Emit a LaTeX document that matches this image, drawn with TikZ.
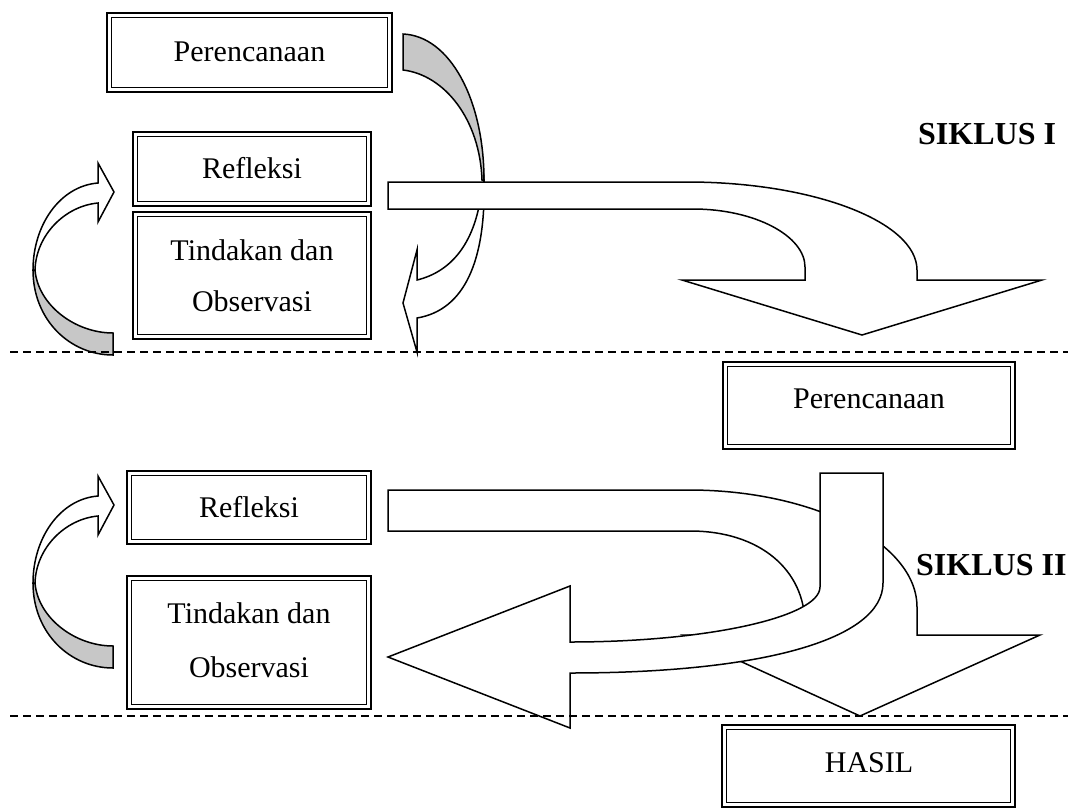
\documentclass[tikz,border=0pt]{standalone}
\usepackage{fontspec}
\setmainfont{Liberation Serif}
\begin{document}
\begin{tikzpicture}[x=1pt,y=-1pt,
  box/.style={draw=black, line width=2.6pt, fill=white, inner sep=0pt,
    path picture={\draw[line width=1.5pt] ([shift={(4.5pt,4.5pt)}]path picture bounding box.south west) rectangle ([shift={(-4.5pt,-4.5pt)}]path picture bounding box.north east);}},
  txt/.style={font=\fontsize{30}{36}\selectfont, inner sep=0pt, anchor=base},
  btxt/.style={font=\fontsize{32}{38}\selectfont\bfseries, inner sep=0pt, anchor=base west},
  arr/.style={draw=black, fill=white, line width=1.5pt, line join=miter},
  garr/.style={arr, fill=black!22},
  dline/.style={draw=black, line width=1.4pt, dash pattern=on 8pt off 5pt}]
\useasboundingbox (0,0) rectangle (1072,807);
\fill[white] (0,0) rectangle (1072,807);

% boxes
\node[box, minimum width=285pt, minimum height=79pt] (plan1) at (249.5,52.5) {};
\node[box, minimum width=238pt, minimum height=74pt] (refl1) at (252,169) {};
\node[box, minimum width=238pt, minimum height=127pt] (act1) at (252,275.5) {};
\node[box, minimum width=292pt, minimum height=87pt] (plan2) at (869,405.5) {};
\node[box, minimum width=244pt, minimum height=73pt] (refl2) at (249,507.5) {};
\node[box, minimum width=244pt, minimum height=133pt] (act2) at (249,642.5) {};
\node[box, minimum width=293pt, minimum height=82pt] (hasil) at (868.5,766) {};

% left curved arrows (cycle I and II)
\foreach \dy in {0,313}{
\begin{scope}[shift={(0,\dy)}]
\path[garr] (33,270) .. controls (33,320) and (70,355) .. (113,355) -- (113,333) .. controls (75,333) and (38,305) .. (35,270) -- cycle;
\path[arr] (33,270) .. controls (33,225) and (60,186) .. (98,183) -- (98,163) -- (114,192) -- (98,222) -- (98,203) .. controls (65,206) and (36,235) .. (35,270) -- cycle;
\end{scope}}

% right curved arrow (cycle I)
\path[garr] (403,34) .. controls (450,36) and (484,100) .. (484,180) -- (482,180) .. controls (480,120) and (445,75) .. (403,70) -- cycle;
\path[arr] (484,180) .. controls (486,260) and (465,310) .. (417,318) -- (417,352) -- (403,303) -- (417,250) -- (417,280) .. controls (450,272) and (474,245) .. (481,195) -- cycle;

% big arrow cycle I
\path[arr] (388,182) -- (687,182) .. controls (814,182) and (917,222) .. (917,270) -- (917,280) -- (1042,280) -- (862,335) -- (682,280) -- (805,280) -- (805,267) .. controls (805,236) and (755,209) .. (693,209) -- (388,209) -- cycle;

% big arrow cycle II (down to HASIL)
\path[arr] (388,490) -- (689,490) .. controls (814,490) and (917,543) .. (917,607) -- (917,635) -- (1040,635) -- (860,716) -- (683,635) -- (805,635) -- (805,625) .. controls (805,570) and (760,531) .. (690,531) -- (388,531) -- cycle;

% arrow from Perencanaan II to Tindakan II
\path[arr] (820,473) -- (883,473) -- (883,583) .. controls (883,640) and (760,673) .. (570,673) -- (570,728) -- (388,657) -- (570,586) -- (570,642) .. controls (707,642) and (820,617) .. (820,587) -- cycle;

% dashed separators
\coordinate (d1a) at (10,352); \coordinate (d1b) at (1068,352);
\coordinate (d2a) at (10,716); \coordinate (d2b) at (1068,716);
\draw[dline] (d1a) -- (d1b);
\draw[dline] (d2a) -- (d2b);

% texts
\node[txt] (tplan1) at (249.5,61) {Perencanaan};
\node[txt] (trefl1) at (252,178) {Refleksi};
\node[txt] (tact1a) at (252,260) {Tindakan dan};
\node[txt] (tact1b) at (252,311) {Observasi};
\node[btxt] (sik1) at (918,144) {SIKLUS I};
\node[txt] (tplan2) at (869,408) {Perencanaan};
\node[txt] (trefl2) at (249,517) {Refleksi};
\node[txt] (tact2a) at (249,623) {Tindakan dan};
\node[txt] (tact2b) at (249,677) {Observasi};
\node[btxt] (sik2) at (916,575) {SIKLUS II};
\node[txt] (thasil) at (869,772) {HASIL};
\end{tikzpicture}
\end{document}
